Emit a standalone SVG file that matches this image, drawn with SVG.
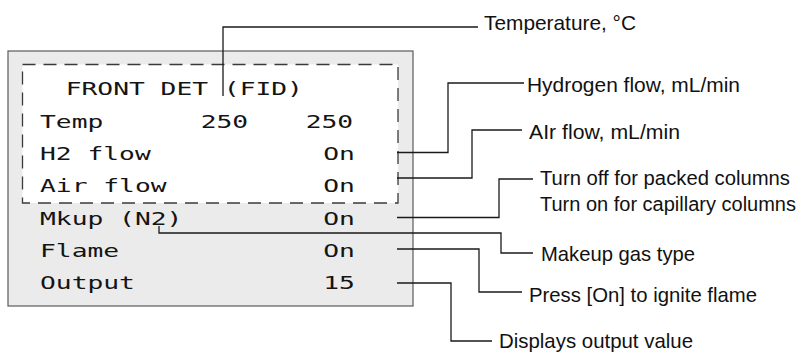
<svg xmlns="http://www.w3.org/2000/svg" width="805" height="353" viewBox="0 0 805 353">
<style>
.disp{font-family:"DejaVu Sans Mono","Liberation Mono",monospace;font-size:18px;fill:#141414}
.lbl{font-family:"Liberation Sans",Arial,sans-serif;font-size:21px;fill:#111}
.lbl2{font-family:"Liberation Sans",Arial,sans-serif;font-size:20px;fill:#111}
.lead{fill:none;stroke:#1a1a1a;stroke-width:1.3}
</style>
<rect width="805" height="353" fill="#ffffff"/>
<g id="panel">
<rect x="8" y="51" width="405" height="255" fill="#ebebeb" stroke="#5a5a5a" stroke-width="1.2"/>
<rect x="22.5" y="64.5" width="375.5" height="138.5" fill="#ffffff" stroke="#3a3a3a" stroke-width="1.3" stroke-dasharray="13 8"/>
<g transform="scale(1.46,1)">
<text class="disp" x="45" y="95">FRONT DET (FID)</text>
<text class="disp" x="27.4" y="128">Temp</text>
<text class="disp" x="137.5" y="128">250</text>
<text class="disp" x="209.4" y="128">250</text>
<text class="disp" x="27.4" y="160">H2 flow</text>
<text class="disp" x="221.4" y="160">On</text>
<text class="disp" x="27.4" y="192.5">Air flow</text>
<text class="disp" x="221.4" y="192.5">On</text>
<text class="disp" x="27.4" y="225">Mkup (N2)</text>
<text class="disp" x="221.4" y="225">On</text>
<text class="disp" x="27.4" y="257.5">Flame</text>
<text class="disp" x="221.4" y="257.5">On</text>
<text class="disp" x="27.4" y="289.5">Output</text>
<text class="disp" x="221.4" y="289.5">15</text>
</g>
</g>
<g id="connectors">
<path class="lead" d="M223,96 V27 H478"/>
<path class="lead" d="M397,152.5 H448 V83 H524"/>
<path class="lead" d="M397,178 H472 V130 H522"/>
<path class="lead" d="M397,217.5 H499 V179 H533"/>
<path class="lead" d="M159,226 V233 H501 V253 H533"/>
<path class="lead" d="M397,249 H479 V292 H522"/>
<path class="lead" d="M397,283 H451 V341 H492"/>
</g>
<g id="label-temperature"><text class="lbl" x="484" y="30" textLength="152" lengthAdjust="spacingAndGlyphs">Temperature, °C</text></g>
<g id="label-hydrogen"><text class="lbl" x="527" y="92" textLength="213" lengthAdjust="spacingAndGlyphs">Hydrogen flow, mL/min</text></g>
<g id="label-air"><text class="lbl" x="529" y="139" textLength="151" lengthAdjust="spacingAndGlyphs">AIr flow, mL/min</text></g>
<g id="label-makeup-onoff">
<text class="lbl2" x="540" y="185" textLength="250" lengthAdjust="spacingAndGlyphs">Turn off for packed columns</text>
<text class="lbl2" x="540" y="211" textLength="256" lengthAdjust="spacingAndGlyphs">Turn on for capillary columns</text>
</g>
<g id="label-makeup-gas"><text class="lbl" x="541" y="261" textLength="154" lengthAdjust="spacingAndGlyphs">Makeup gas type</text></g>
<g id="label-flame"><text class="lbl" x="529" y="302" textLength="228" lengthAdjust="spacingAndGlyphs">Press [On] to ignite flame</text></g>
<g id="label-output"><text class="lbl" x="499" y="348" textLength="194" lengthAdjust="spacingAndGlyphs">Displays output value</text></g>
</svg>
